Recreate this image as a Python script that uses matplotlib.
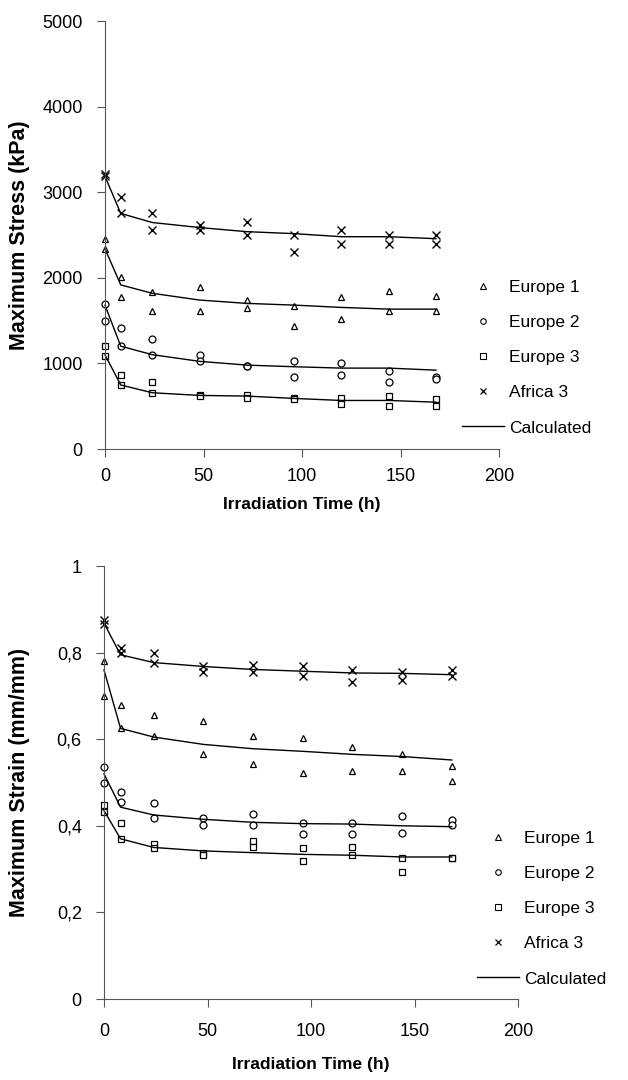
import numpy as np
import matplotlib
matplotlib.use('Agg')
import matplotlib.pyplot as plt
from matplotlib.ticker import FuncFormatter
from matplotlib.lines import Line2D

plt.rcParams['font.family'] = ['Liberation Sans', 'DejaVu Sans']

# tiempos de irradiacion (h)
tiempo = [0, 8, 24, 48, 72, 96, 120, 144, 168]

# esfuerzo maximo (kPa), dos replicas por muestra
europa1_tension = [[2449, 2008, 1831, 1890, 1740, 1673, 1772, 1850, 1791],
                   [2339, 1772, 1614, 1614, 1650, 1437, 1516, 1614, 1614]]
europa2_tension = [[1689, 1417, 1280, 1102, 975, 1024, 1004, 906, 846],
                   [1496, 1201, 1102, 1024, 970, 846, 866, 787, 815]]
europa3_tension = [[1201, 866, 787, 630, 630, 598, 598, 618, 579],
                   [1083, 748, 657, 618, 598, 579, 520, 500, 500]]
africa3_tension = [[3217, 2949, 2752, 2618, 2650, 2496, 2555, 2500, 2500],
                   [3185, 2752, 2555, 2555, 2496, 2303, 2398, 2398, 2398]]
calc_tension = [[2339, 1917, 1819, 1740, 1701, 1681, 1654, 1634, 1634],
                [1680, 1201, 1102, 1024, 980, 961, 945, 945, 921],
                [1100, 748, 657, 626, 618, 591, 567, 567, 547],
                [3185, 2752, 2646, 2587, 2539, 2516, 2480, 2480, 2457]]

# deformacion maxima (mm/mm)
europa1_def = [[0.78, 0.68, 0.656, 0.641, 0.607, 0.602, 0.582, 0.565, 0.538],
               [0.70, 0.625, 0.607, 0.565, 0.542, 0.522, 0.527, 0.527, 0.503]]
europa2_def = [[0.535, 0.478, 0.452, 0.418, 0.427, 0.407, 0.407, 0.422, 0.414],
               [0.50, 0.456, 0.418, 0.402, 0.402, 0.380, 0.380, 0.384, 0.402]]
europa3_def = [[0.447, 0.407, 0.359, 0.337, 0.364, 0.348, 0.352, 0.326, 0.326],
               [0.432, 0.370, 0.348, 0.333, 0.352, 0.318, 0.332, 0.294, 0.326]]
africa3_def = [[0.875, 0.81, 0.80, 0.768, 0.772, 0.768, 0.76, 0.756, 0.76],
               [0.865, 0.80, 0.775, 0.756, 0.756, 0.746, 0.732, 0.737, 0.746]]
calc_def = [[0.76, 0.625, 0.605, 0.588, 0.578, 0.572, 0.565, 0.56, 0.552],
            [0.52, 0.443, 0.425, 0.415, 0.408, 0.405, 0.404, 0.40, 0.398],
            [0.435, 0.37, 0.35, 0.342, 0.338, 0.334, 0.332, 0.328, 0.328],
            [0.868, 0.795, 0.777, 0.768, 0.761, 0.757, 0.753, 0.752, 0.749]]

nombres = ['Europe 1', 'Europe 2', 'Europe 3', 'Africa 3']
marcadores = ['^', 'o', 's', 'x']


def dibujar(ax, series, calculadas, xpad):
    for datos, m in zip(series, marcadores):
        for rep in datos:
            if m == 'x':
                ax.plot(tiempo, rep, ls='none', marker=m, ms=6, mew=1.0,
                        color='black', clip_on=False)
            else:
                ax.plot(tiempo, rep, ls='none', marker=m, ms=5, mew=0.9,
                        mfc='white', mec='black', clip_on=False)
    for c in calculadas:
        ax.plot(tiempo, c, color='black', lw=1.0, clip_on=False)
    for s in ['top', 'right']:
        ax.spines[s].set_visible(False)
    ax.spines['left'].set_color('#555555')
    ax.spines['bottom'].set_color('#555555')
    ax.tick_params(direction='out', length=6, width=0.8, colors='#555555',
                   labelcolor='black', labelsize=13)
    ax.tick_params(axis='x', pad=xpad)
    ax.tick_params(axis='y', pad=10)
    ax.set_xlim(0, 200)
    ax.set_xticks([0, 50, 100, 150, 200])
    ax.set_xlabel('Irradiation Time (h)', fontsize=12.5, fontweight='bold')


def leyenda(ax, x, y):
    handles = []
    for n, m in zip(nombres, marcadores):
        if m == 'x':
            h = Line2D([], [], ls='none', marker=m, ms=5, mew=0.9, color='black', label=n)
        else:
            h = Line2D([], [], ls='none', marker=m, ms=4, mew=0.8, mfc='white',
                       mec='black', label=n)
        handles.append(h)
    handles.append(Line2D([], [], color='black', lw=1.0, label='Calculated'))
    ax.legend(handles=handles, loc='upper left', bbox_to_anchor=(x, y),
              bbox_transform=ax.figure.transFigure, frameon=False,
              fontsize=12.5, labelspacing=1.15, handlelength=2.4,
              handletextpad=0.3, borderaxespad=0)


fig = plt.figure(figsize=(6.28, 10.8), dpi=100)

ax1 = fig.add_axes([105 / 628, 1 - 449 / 1080, 394 / 628, 428 / 1080])
dibujar(ax1, [europa1_tension, europa2_tension, europa3_tension, africa3_tension],
        calc_tension, 8)
ax1.set_ylim(0, 5000)
ax1.set_yticks(range(0, 5001, 1000))
ax1.set_ylabel('Maximum Stress (kPa)', fontsize=15.5, fontweight='bold')
ax1.yaxis.set_label_coords((30 - 105) / 394, 0.5)
ax1.xaxis.set_label_coords(0.5, (449 - 497) / 428)
leyenda(ax1, 455 / 628, 1 - 273 / 1080)

ax2 = fig.add_axes([104 / 628, 1 - 999 / 1080, 414 / 628, 433 / 1080])
dibujar(ax2, [europa1_def, europa2_def, europa3_def, africa3_def], calc_def, 11)
ax2.set_ylim(0, 1)
ax2.set_yticks([0, 0.2, 0.4, 0.6, 0.8, 1])
ax2.yaxis.set_major_formatter(FuncFormatter(lambda v, p: f'{v:g}'.replace('.', ',')))
ax2.set_ylabel('Maximum Strain (mm/mm)', fontsize=15.5, fontweight='bold')
ax2.yaxis.set_label_coords((30 - 104) / 414, 0.5)
ax2.xaxis.set_label_coords(0.5, (999 - 1057) / 433)
leyenda(ax2, 470 / 628, 1 - 824 / 1080)

fig.savefig('out.png', dpi=100)
